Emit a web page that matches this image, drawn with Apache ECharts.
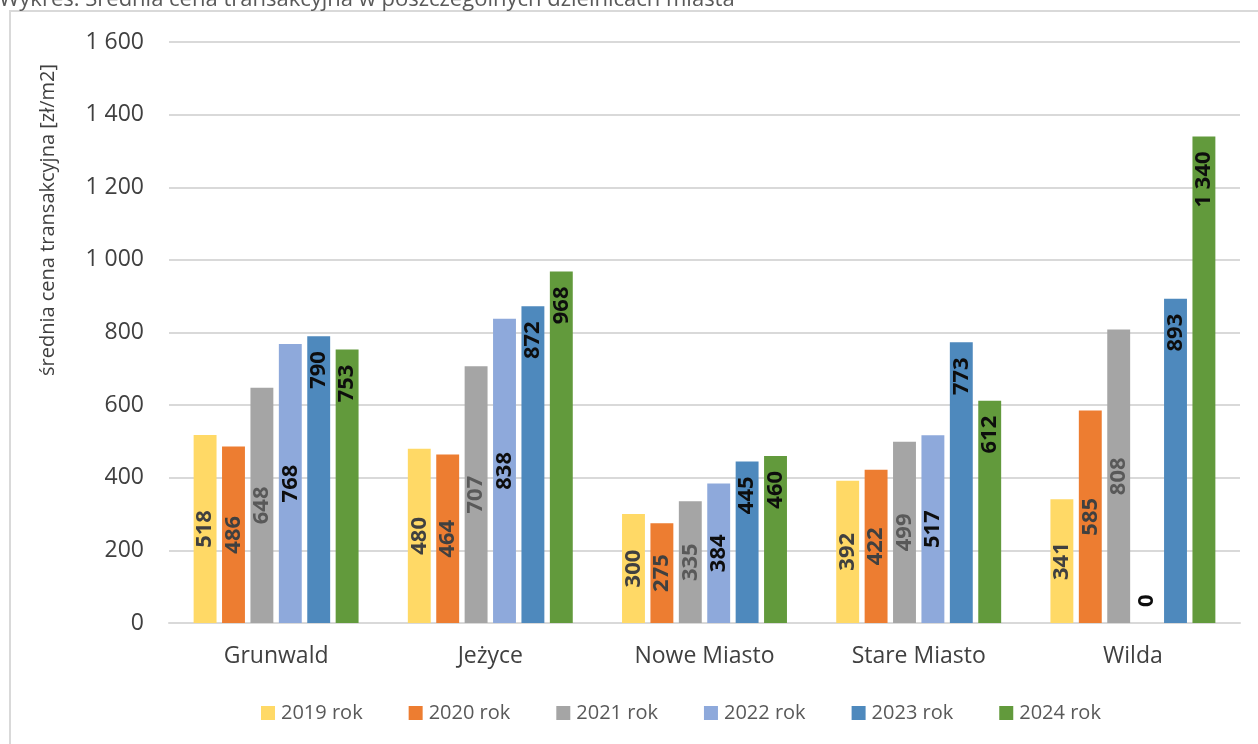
<!DOCTYPE html>
<html>
<head>
<meta charset="utf-8">
<script src="https://cdn.jsdelivr.net/npm/echarts@6/dist/echarts.min.js"></script>
<style>
  html, body { margin: 0; padding: 0; background: #fff; }
  #chart { width: 1258px; height: 744px; }
</style>
</head>
<body>
<div id="chart"></div>
<script>
// Districts and yearly average transaction price (zł/m2)
const districts = ['Grunwald', 'Jeżyce', 'Nowe Miasto', 'Stare Miasto', 'Wilda'];
const years = ['2019 rok', '2020 rok', '2021 rok', '2022 rok', '2023 rok', '2024 rok'];
const price2019 = [518, 480, 300, 392, 341];
const price2020 = [486, 464, 275, 422, 585];
const price2021 = [648, 707, 335, 499, 808];
const price2022 = [768, 838, 384, 517, 0];
const price2023 = [790, 872, 445, 773, 893];
const price2024 = [753, 968, 460, 612, 1340];
const yTicks = [0, 200, 400, 600, 800, 1000, 1200, 1400, 1600];

const values = [price2019, price2020, price2021, price2022, price2023, price2024];
const colors = ['#FFD966', '#ED7D31', '#A5A5A5', '#8EA9DB', '#4E89BD', '#629A3C'];
const labelColors = ['#404040', '#404040', '#595959', '#0d0d0d', '#0d0d0d', '#0d0d0d'];
const FONT = '"Open Sans", "Liberation Sans", sans-serif';

// thousands separated by a non-breaking space: 1600 -> "1 600"
const fmt = v => {
  const s = String(Math.round(v));
  return s.replace(/\B(?=(\d{3})+(?!\d))/g, '\u00a0');
};

const series = years.map((name, i) => {
  const topAnchored = i >= 4;
  const baseLabel = topAnchored
    ? { position: 'insideTop', align: 'right', verticalAlign: 'middle', distance: 15 }
    : { position: 'inside', align: 'center', verticalAlign: 'middle' };
  return {
    name,
    type: 'bar',
    barGap: '24%',
    barCategoryGap: '23%',
    itemStyle: { color: colors[i] },
    label: Object.assign({
      show: true,
      rotate: 90,
      color: labelColors[i],
      fontFamily: FONT,
      fontWeight: 'bold',
      fontSize: 22,
      formatter: p => fmt(p.value)
    }, baseLabel),
    data: values[i].map(v => v === 0
      ? { value: v, label: { position: 'insideBottom', align: 'left', verticalAlign: 'middle', distance: 16 } }
      : v)
  };
});

const chart = echarts.init(document.getElementById('chart'), null, { renderer: 'canvas' });
chart.setOption({
  animation: false,
  color: colors,
  textStyle: { fontFamily: FONT },
  grid: { left: 169, right: 18, top: 42, bottom: 121, containLabel: false },
  graphic: [
    {
      type: 'rect',
      shape: { x: 10, y: 11, width: 1400, height: 900 },
      style: { fill: 'none', stroke: '#d9d9d9', lineWidth: 2 },
      silent: true
    },
    {
      type: 'text',
      x: -1, y: 11,
      style: {
        text: 'Wykres: Średnia cena transakcyjna w poszczególnych dzielnicach miasta',
        font: '22px ' + FONT,
        fill: '#595959',
        align: 'left',
        verticalAlign: 'bottom'
      },
      silent: true
    },
    {
      type: 'text',
      x: 48, y: 220,
      rotation: Math.PI / 2,
      style: {
        text: 'średnia cena transakcyjna [zł/m2]',
        font: '20px ' + FONT,
        fill: '#404040',
        align: 'center',
        verticalAlign: 'middle'
      },
      silent: true
    }
  ],
  legend: {
    data: years,
    bottom: 16,
    left: 256,
    itemWidth: 14,
    itemHeight: 14,
    itemGap: 46,
    icon: 'rect',
    textStyle: { fontFamily: FONT, fontSize: 20, color: '#595959', padding: [0, 0, 0, 1] }
  },
  xAxis: {
    type: 'category',
    data: districts,
    axisLine: { lineStyle: { color: '#d9d9d9', width: 2 } },
    axisTick: { show: false },
    axisLabel: { fontFamily: FONT, fontSize: 23, color: '#404040', margin: 22 }
  },
  yAxis: {
    type: 'value',
    min: yTicks[0],
    max: yTicks[yTicks.length - 1],
    interval: yTicks[1] - yTicks[0],
    axisLine: { show: false },
    axisTick: { show: false },
    splitLine: { lineStyle: { color: '#d9d9d9', width: 2 } },
    axisLabel: { fontFamily: FONT, fontSize: 23, color: '#404040', margin: 25, formatter: fmt }
  },
  series
});
</script>
</body>
</html>
